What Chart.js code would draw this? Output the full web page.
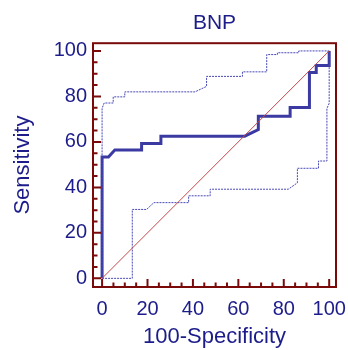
<!DOCTYPE html>
<html>
<head>
<meta charset="utf-8">
<title>BNP ROC</title>
<script src="https://cdn.jsdelivr.net/npm/chart.js@4.4.1/dist/chart.umd.min.js"></script>
<style>
  html, body { margin: 0; padding: 0; background: #ffffff; }
  #wrap { width: 348px; height: 350px; position: relative; }
</style>
</head>
<body>
<div id="wrap"><canvas id="rocChart"></canvas></div>
<script>
// ROC curve (100-specificity vs sensitivity)
const rocFpr = [0, 0, 2.8, 5.6, 17.4, 17.4, 25.9, 25.9, 62.8, 68.8, 68.8, 82.8, 82.8, 91.3, 91.3, 94.3, 94.3, 100, 100];
const rocTpr = [0, 53.4, 53.4, 56.4, 56.4, 59.3, 59.3, 62.5, 62.5, 65.4, 71.3, 71.3, 75.1, 75.1, 90.5, 90.5, 93.6, 93.6, 100];

// upper confidence bound
const upperFpr = [0, 0, 0.9, 4.9, 4.9, 10, 10, 40.9, 46, 46, 61.8, 61.8, 72.5, 72.5, 77.2, 77.2, 86.6, 86.6, 100];
const upperTpr = [0, 74.7, 77.1, 77.1, 79.8, 79.8, 82, 82, 84.4, 88.8, 88.8, 90.8, 90.8, 98.4, 98.4, 99.2, 99.2, 100, 100];

// lower confidence bound
const lowerFpr = [0, 13.3, 13.3, 19.6, 22.8, 38.1, 38.1, 47.6, 47.6, 82, 86, 86, 95.3, 95.3, 99, 99, 100, 100];
const lowerTpr = [0, 0, 30.3, 30.3, 33.3, 33.3, 36.3, 36.3, 39.2, 39.2, 42, 48.4, 48.4, 51.6, 51.6, 74.7, 77, 100];

// chance line
const refFpr = [0, 100];
const refTpr = [0, 100];

const tickValues = [0, 20, 40, 60, 80, 100];
const minorStep = 5;

const textColor = '#1c1c8a';
const frameColor = '#7a0a0a';
const curveColor = '#3a3aa2';
const fontFamily = '"Liberation Sans", Arial, Helvetica, sans-serif';

function toPoints(xs, ys) {
    return xs.map((x, i) => ({ x: x, y: ys[i] }));
}

// frame round the plot and inward tick marks
const frameTicks = {
    id: 'frameTicks',
    afterDraw(chart) {
        const ctx = chart.ctx;
        const area = chart.chartArea;
        const xs = chart.scales.x;
        const ys = chart.scales.y;
        ctx.save();
        ctx.strokeStyle = frameColor;
        ctx.lineWidth = 2;
        ctx.beginPath();
        for (let v = 0; v <= 100; v += minorStep) {
            const len = v % 20 === 0 ? 8 : 4.5;
            const py = ys.getPixelForValue(v);
            ctx.moveTo(area.left, py);
            ctx.lineTo(area.left + len, py);
            const px = xs.getPixelForValue(v);
            ctx.moveTo(px, area.bottom);
            ctx.lineTo(px, area.bottom - len);
        }
        ctx.stroke();
        ctx.strokeRect(area.left, area.top, area.right - area.left, area.bottom - area.top);
        ctx.restore();
    }
};

function fixedTicks(scale) {
    scale.ticks = tickValues.map(v => ({ value: v }));
}

window.onload = function() {
    new Chart(document.getElementById('rocChart'), {
        type: 'scatter',
        data: {
            datasets: [
                {
                    label: 'Reference',
                    data: toPoints(refFpr, refTpr),
                    showLine: true,
                    borderColor: '#c04848',
                    borderWidth: 1,
                    pointRadius: 0
                },
                {
                    label: 'Upper CI',
                    data: toPoints(upperFpr, upperTpr),
                    showLine: true,
                    borderColor: '#4848b8',
                    borderWidth: 1,
                    borderDash: [2, 1],
                    pointRadius: 0
                },
                {
                    label: 'Lower CI',
                    data: toPoints(lowerFpr, lowerTpr),
                    showLine: true,
                    borderColor: '#4848b8',
                    borderWidth: 1,
                    borderDash: [2, 1],
                    pointRadius: 0
                },
                {
                    label: 'BNP',
                    data: toPoints(rocFpr, rocTpr),
                    showLine: true,
                    borderColor: curveColor,
                    borderWidth: 3,
                    pointRadius: 0
                }
            ]
        },
        options: {
            responsive: true,
            maintainAspectRatio: false,
            animation: false,
            events: [],
            layout: {
                padding: { left: 0, right: 12, top: 0, bottom: 0 }
            },
            plugins: {
                legend: { display: false },
                tooltip: { enabled: false },
                title: {
                    display: true,
                    fullSize: false,
                    text: 'BNP',
                    color: textColor,
                    font: { family: fontFamily, size: 21, weight: 'normal' },
                    padding: { top: 11, bottom: 7 }
                }
            },
            scales: {
                x: {
                    type: 'linear',
                    min: -4,
                    max: 103,
                    afterBuildTicks: fixedTicks,
                    afterFit: (scale) => {
                        // fixed axis band; the end labels may run into the margin
                        scale.height = 63;
                        scale.paddingLeft = 0;
                        scale.paddingRight = 0;
                    },
                    grid: { display: false, drawTicks: false },
                    border: { display: false },
                    ticks: {
                        color: textColor,
                        padding: 10,
                        maxRotation: 0,
                        font: { family: fontFamily, size: 20 }
                    },
                    title: {
                        display: true,
                        text: '100-Specificity',
                        color: textColor,
                        font: { family: fontFamily, size: 22 },
                        padding: { top: 0, bottom: 0 }
                    }
                },
                y: {
                    type: 'linear',
                    min: -3.8,
                    max: 103.4,
                    afterBuildTicks: fixedTicks,
                    afterFit: (scale) => { scale.width = 93; },
                    grid: { display: false, drawTicks: false },
                    border: { display: false },
                    ticks: {
                        color: textColor,
                        padding: 6,
                        font: { family: fontFamily, size: 20 }
                    },
                    title: {
                        display: true,
                        text: 'Sensitivity',
                        color: textColor,
                        font: { family: fontFamily, size: 22 },
                        padding: { top: 10, bottom: 0 }
                    }
                }
            }
        },
        plugins: [frameTicks]
    });
};
</script>
</body>
</html>
